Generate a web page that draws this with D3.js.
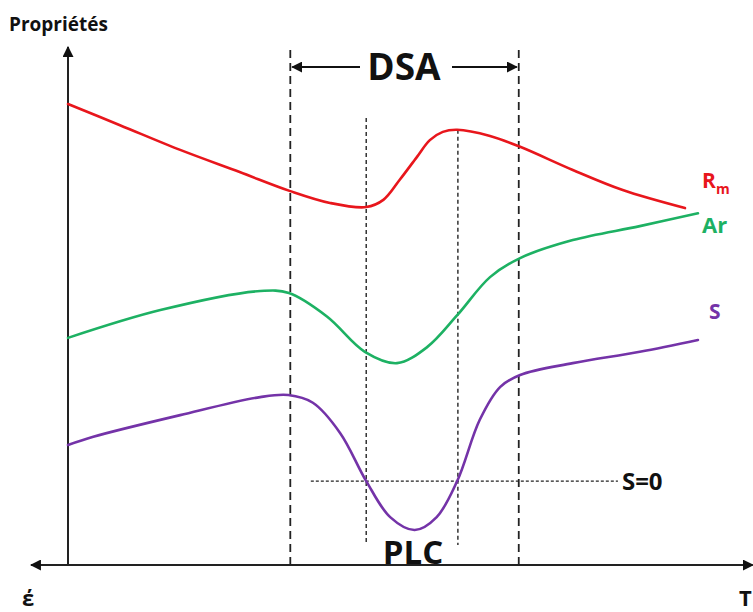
<!DOCTYPE html>
<html>
<head>
<meta charset="utf-8">
<script src="https://cdn.jsdelivr.net/npm/d3@7"></script>
<style>
  html, body { margin: 0; padding: 0; background: #fff; }
  svg { display: block; }
  text { font-family: "Open Sans", Lato, sans-serif; font-weight: 700; }
</style>
</head>
<body>
<svg id="chart" width="753" height="612"></svg>
<script>
// ---- data (abstract units: x = strain ε, y = property level) ----
const rmX = [0, 7.6, 16.4, 25.1, 32.5, 38.3, 43.6, 46.1, 48.5, 51.0, 52.9, 54.8, 56.9, 61.7, 66.1, 73.8, 81.1, 90.2];
const rmY = [89.5, 85.4, 80.6, 76.3, 72.6, 70.3, 69.5, 70.9, 74.8, 79.2, 82.5, 84.1, 84.5, 83.3, 81.2, 76.7, 72.8, 69.3];

const arX = [0, 13.5, 28.1, 32.3, 37.9, 43.4, 48.1, 52.5, 56.9, 61.7, 66.1, 73.8, 83.6, 92.1];
const arY = [44.1, 49.5, 53.2, 52.8, 48.2, 41.4, 39.2, 42.3, 48.5, 55.9, 59.6, 63.1, 65.8, 68.3];

const sX = [0, 3.7, 16.4, 28.1, 32.2, 35.8, 39.8, 43.6, 47.1, 50.7, 53.9, 56.9, 60.2, 63.2, 66.1, 73.8, 83.6, 92.1];
const sY = [23.3, 24.9, 29.1, 32.6, 33.0, 31.5, 25.6, 16.3, 9.3, 6.8, 9.3, 16.3, 28.2, 34.6, 36.9, 39.2, 41.4, 43.7];

const seriesNames = ["Rm", "Ar", "S"];
const seriesColors = ["#e8161c", "#1db163", "#7433a8"];

const dsaBounds = [32.5, 65.9];   // DSA domain (thick dashed)
const plcBounds = [43.6, 57.0];   // PLC domain (thin dashed)
const sZeroLevel = 16.3;          // S = 0 line
const sZeroRange = [35.5, 80.4];

const labels = { yTitle: "Propriétés", xLeft: "έ", xRight: "T", dsa: "DSA", plc: "PLC", sZero: "S=0" };

// ---- scales ----
const x = d3.scaleLinear().domain([0, 100]).range([68, 752]);
const y = d3.scaleLinear().domain([0, 100]).range([565, 50]);

const svg = d3.select("#chart");
const defs = svg.append("defs");
function marker(id, size) {
  defs.append("marker")
    .attr("id", id).attr("viewBox", "0 0 10 10")
    .attr("refX", 9).attr("refY", 5)
    .attr("markerWidth", size).attr("markerHeight", size)
    .attr("markerUnits", "userSpaceOnUse")
    .attr("orient", "auto-start-reverse")
    .append("path").attr("d", "M0,0 L10,5 L0,10 Z").attr("fill", "#111");
}
marker("axisArrow", 11);
marker("dsaArrow", 11);

// ---- axes ----
svg.append("line")
  .attr("x1", x(0)).attr("y1", y(0) + 1)
  .attr("x2", x(0)).attr("y2", y(100) - 3)
  .attr("stroke", "#222").attr("stroke-width", 2)
  .attr("marker-end", "url(#axisArrow)");
svg.append("line")
  .attr("x1", x(-5.4)).attr("y1", y(0))
  .attr("x2", x(100.1)).attr("y2", y(0))
  .attr("stroke", "#222").attr("stroke-width", 2)
  .attr("marker-start", "url(#axisArrow)")
  .attr("marker-end", "url(#axisArrow)");

// ---- DSA / PLC boundary lines ----
dsaBounds.forEach(v => {
  svg.append("line")
    .attr("x1", x(v)).attr("x2", x(v))
    .attr("y1", y(100)).attr("y2", y(0))
    .attr("stroke", "#222").attr("stroke-width", 1.8)
    .attr("stroke-dasharray", "8,5");
});
plcBounds.forEach((v, i) => {
  svg.append("line")
    .attr("x1", x(v)).attr("x2", x(v))
    .attr("y1", y(i === 0 ? 86.8 : 84.5)).attr("y2", y(3.9))
    .attr("stroke", "#333").attr("stroke-width", 1.5)
    .attr("stroke-dasharray", "4,3");
});

// S = 0 line
svg.append("line")
  .attr("x1", x(sZeroRange[0])).attr("x2", x(sZeroRange[1]))
  .attr("y1", y(sZeroLevel)).attr("y2", y(sZeroLevel))
  .attr("stroke", "#222").attr("stroke-width", 1.2)
  .attr("stroke-dasharray", "3,2");
svg.append("text")
  .attr("x", x(sZeroRange[1]) + 4).attr("y", y(sZeroLevel) + 9)
  .attr("font-size", 24).attr("fill", "#111")
  .text(labels.sZero);

// DSA arrows + label
const dsaY = 67;
const dsaMid = 408;
svg.append("line")
  .attr("x1", dsaMid - 48).attr("x2", x(dsaBounds[0]) + 2)
  .attr("y1", dsaY).attr("y2", dsaY)
  .attr("stroke", "#111").attr("stroke-width", 2)
  .attr("marker-end", "url(#dsaArrow)");
svg.append("line")
  .attr("x1", dsaMid + 44).attr("x2", x(dsaBounds[1]) - 2)
  .attr("y1", dsaY).attr("y2", dsaY)
  .attr("stroke", "#111").attr("stroke-width", 2)
  .attr("marker-end", "url(#dsaArrow)");
svg.append("text")
  .attr("x", dsaMid - 4).attr("y", 80)
  .attr("text-anchor", "middle")
  .attr("font-size", 37).attr("fill", "#111")
  .text(labels.dsa);

// PLC label
svg.append("text")
  .attr("x", x((plcBounds[0] + plcBounds[1]) / 2) + 1).attr("y", 564)
  .attr("text-anchor", "middle")
  .attr("font-size", 33).attr("fill", "#111")
  .text(labels.plc);

// ---- curves ----
const line = d3.line()
  .x(d => x(d[0])).y(d => y(d[1]))
  .curve(d3.curveCatmullRom.alpha(0.5));
const series = [
  d3.zip(rmX, rmY),
  d3.zip(arX, arY),
  d3.zip(sX, sY)
];
series.forEach((pts, i) => {
  svg.append("path")
    .attr("d", line(pts))
    .attr("fill", "none")
    .attr("stroke", seriesColors[i])
    .attr("stroke-width", 2.6)
    .attr("stroke-linecap", "round");
});

// series labels
const rmLab = svg.append("text")
  .attr("x", 702).attr("y", 188)
  .attr("font-size", 21).attr("fill", seriesColors[0]);
rmLab.append("tspan").text("R");
rmLab.append("tspan").attr("dy", 6).attr("font-size", 14).text("m");
svg.append("text")
  .attr("x", 702).attr("y", 233)
  .attr("font-size", 22).attr("fill", seriesColors[1])
  .text(seriesNames[1]);
svg.append("text")
  .attr("x", 709).attr("y", 319)
  .attr("font-size", 21).attr("fill", seriesColors[2])
  .text(seriesNames[2]);

// axis titles
svg.append("text")
  .attr("x", 9).attr("y", 31)
  .attr("font-size", 19).attr("fill", "#111")
  .text(labels.yTitle);
svg.append("text")
  .attr("x", 22).attr("y", 606)
  .attr("font-size", 22).attr("fill", "#111")
  .text(labels.xLeft);
svg.append("text")
  .attr("x", 739).attr("y", 606)
  .attr("font-size", 22).attr("fill", "#111")
  .text(labels.xRight);
</script>
</body>
</html>
